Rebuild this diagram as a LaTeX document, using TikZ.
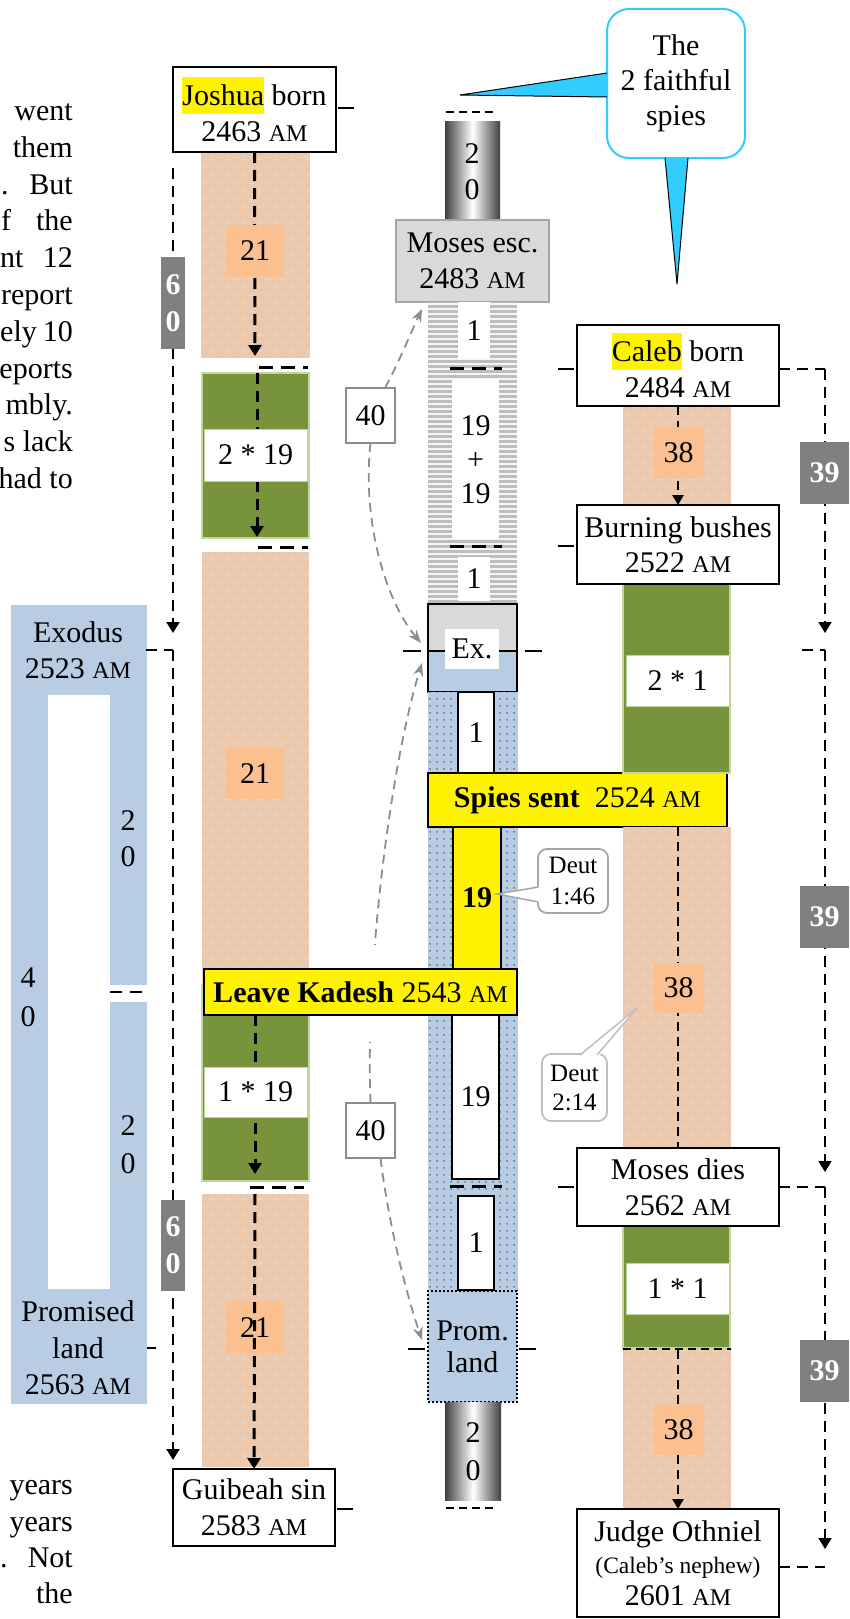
\documentclass[tikz,border=0pt]{standalone}
\usepackage{fontspec}
\setmainfont{Liberation Serif}
\usetikzlibrary{arrows.meta,patterns}
\definecolor{peach}{HTML}{ECC8AC}
\definecolor{peachlab}{HTML}{FAC090}
\definecolor{olive}{HTML}{77933C}
\definecolor{lgreen}{HTML}{C3D69B}
\definecolor{lblue}{HTML}{B8CCE4}
\definecolor{lgray}{HTML}{D9D9D9}
\definecolor{mgray}{HTML}{A6A6A6}
\definecolor{dgray}{HTML}{808080}
\definecolor{cyanb}{HTML}{33CCFF}
\definecolor{stripe}{HTML}{BDBDBD}
\definecolor{curvegray}{HTML}{8C8C8C}
\definecolor{crossc}{HTML}{DDD6D2}
\definecolor{dotc}{HTML}{3A3F4A}
\definecolor{calloutgray}{HTML}{BFBFBF}
\pgfdeclarepatternformonly{pdots}{\pgfpointorigin}{\pgfpoint{7pt}{7pt}}{\pgfpoint{7pt}{7pt}}{\pgfpathcircle{\pgfpoint{3.5pt}{3.5pt}}{0.9pt}\pgfusepath{fill}}
\pgfdeclarepatternformonly{pcross}{\pgfpointorigin}{\pgfpoint{16pt}{16pt}}{\pgfpoint{16pt}{16pt}}{\pgfsetlinewidth{1.2pt}\pgfpathmoveto{\pgfpoint{1pt}{4pt}}\pgfpathlineto{\pgfpoint{7pt}{4pt}}\pgfpathmoveto{\pgfpoint{4pt}{1pt}}\pgfpathlineto{\pgfpoint{4pt}{7pt}}\pgfpathmoveto{\pgfpoint{9pt}{12pt}}\pgfpathlineto{\pgfpoint{15pt}{12pt}}\pgfpathmoveto{\pgfpoint{12pt}{9pt}}\pgfpathlineto{\pgfpoint{12pt}{15pt}}\pgfusepath{stroke}}
\newcommand\hlt[1]{{\setlength\fboxsep{0pt}\colorbox{yellow}{\rule[-9pt]{0pt}{37pt}#1}}}
\newcommand\smam{{\fontsize{24}{24}\selectfont AM}}
\newcommand\boxat[7][]{%
  \pgfmathsetmacro\bxw{(#5)-(#3)}%
  \pgfmathsetmacro\bxh{(#6)-(#4)}%
  \node[inner sep=0pt, outer sep=0pt, minimum width=\bxw pt, minimum height=\bxh pt, align=center, #1] (#2) at ({((#3)+(#5))/2},{((#4)+(#6))/2}) {#7};%
}
\newcommand\peachbar[4]{\fill[peach] (#1,#2) rectangle (#3,#4); \fill[pattern=pcross, pattern color=crossc] (#1,#2) rectangle (#3,#4);}
\newcommand\greenbar[4]{\fill[olive, draw=lgreen, line width=1.5pt] (#1,#2) rectangle (#3,#4);}
\begin{document}
\begin{tikzpicture}[x=1pt,y=-1pt,
  every node/.style={font=\fontsize{30}{36}\selectfont, inner sep=0pt},
  evbox/.style={draw, fill=white, line width=1.6pt},
  lab/.style={fill=peachlab},
  wlab/.style={fill=white, draw=lgreen, line width=1pt},
  gbox/.style={fill=dgray, text=white, font=\fontsize{30}{37}\selectfont\bfseries},
  fortybox/.style={draw=curvegray, fill=white, line width=1.8pt},
  blk/.style={draw, line width=1.8pt},
  jarrow/.style={line width=3pt, dash pattern=on 11pt off 7pt, -{Triangle[width=13pt,length=11pt]}},
  tdash/.style={line width=2pt, dash pattern=on 11pt off 7pt},
  tarrow/.style={tdash, -{Triangle[width=13pt,length=11pt]}},
  carrow/.style={line width=2.5pt, dash pattern=on 9pt off 6pt, -{Triangle[width=11pt,length=10pt]}},
  mdash/.style={line width=3pt, dash pattern=on 14pt off 8pt},
  sdash/.style={line width=2pt, dash pattern=on 8pt off 5pt},
  tk/.style={line width=2.5pt},
  gcurve/.style={draw=curvegray, line width=1.8pt, dash pattern=on 9pt off 6pt, -{Stealth[length=13pt,width=10pt]}},
]
\useasboundingbox (0,0) rectangle (849,1619);

% ---------- left margin text ----------
\node[anchor=base east] (t1) at (73,120) {went};
\node[anchor=base east] (t2) at (73,157) {them};
\node[anchor=base west] (t3a) at (1,194) {.};
\node[anchor=base east] (t3) at (73,194) {But};
\node[anchor=base west] (t4a) at (1,230) {f};
\node[anchor=base east] (t4) at (73,230) {the};
\node[anchor=base west] (t5a) at (0,267) {nt};
\node[anchor=base east] (t5) at (73,267) {12};
\node[anchor=base east] (t6) at (73,304) {report};
\node[anchor=base west] (t7a) at (0,341) {ely};
\node[anchor=base east] (t7) at (73,341) {10};
\node[anchor=base east] (t8) at (73,378) {eports};
\node[anchor=base east] (t9) at (73,414) {mbly.};
\node[anchor=base east] (t10) at (73,451) {s lack};
\node[anchor=base east] (t11) at (73,488) {had to};
\node[anchor=base east] (b1) at (73,1494) {years};
\node[anchor=base east] (b2) at (73,1531) {years};
\node[anchor=base west] (b3a) at (0,1567) {.};
\node[anchor=base east] (b3) at (73,1567) {Not};
\node[anchor=base east] (b4) at (73,1603) {the};

% ---------- left blue Exodus frame ----------
\fill[lblue] (11,605) rectangle (147,1404);
\fill[white] (48,695) rectangle (110,1289);
\fill[white] (110,985) rectangle (148,1002);
\draw[line width=2.5pt, dash pattern=on 12pt off 8pt] (110,992) -- (146,992);
\node[align=center] (exodus) at (78,650) {Exodus\\2523 \smam};
\node[align=center] (e20a) at (128,839) {2\\0};
\node[align=center, font=\fontsize{30}{39}\selectfont] (e40) at (28,997) {4\\0};
\node[align=center, font=\fontsize{30}{38}\selectfont] (e20b) at (128,1145) {2\\0};
\node[align=center, font=\fontsize{30}{36.5}\selectfont] (promised) at (78,1348) {Promised\\land\\2563 \smam};
\draw[tk] (147,1348) -- (156,1348);

% ---------- Joshua column ----------
\peachbar{201}{152}{310}{358}
\greenbar{202}{373}{309}{538}
\peachbar{202}{552}{309}{985}
\greenbar{202}{985}{309}{1181}
\peachbar{202}{1194}{309}{1467}

\boxat[evbox]{joshua}{173}{67}{336}{152}{\hlt{Joshua} born\\2463 \smam}
\draw[tk] (338,108) -- (354,108);

\coordinate (ja1) at (255,356);
\draw[jarrow] (joshua.south) -- (ja1);
\draw[mdash] (259,367) -- (308,367);
\coordinate (ja2s) at (257,373); \coordinate (ja2e) at (257,537);
\draw[jarrow] (ja2s) -- (ja2e);
\draw[mdash] (258,547) -- (308,547);
\coordinate (ja3s) at (255,1015); \coordinate (ja3e) at (255,1174);
\draw[jarrow] (ja3s) -- (ja3e);
\draw[mdash] (250,1187) -- (304,1187);
\coordinate (ja4s) at (255,1194);

\boxat[lab]{l21a}{226}{225}{284}{277}{21}
\boxat[wlab]{l219}{204}{429}{307}{481}{2 * 19}
\boxat[lab]{l21b}{226}{748}{284}{799}{21}
\boxat[wlab]{l119}{204}{1067}{307}{1117}{1 * 19}
\boxat[lab]{l21c}{226}{1302}{284}{1353}{21}

\boxat[evbox]{guibeah}{173}{1469}{335}{1546}{Guibeah sin\\2583 \smam}
\draw[jarrow] (ja4s) -- (guibeah.north);
\draw[tk] (337,1509) -- (353,1509);

% 60-year brackets
\coordinate (s60a) at (173,168); \coordinate (s60b) at (173,633);
\coordinate (ex60) at (173,650); \coordinate (s60c) at (173,1460);
\draw[tarrow] (s60a) -- (s60b);
\draw[tdash] (146,650) -- (ex60);
\draw[tarrow] (ex60) -- (s60c);
\boxat[gbox]{g60a}{161}{257}{185}{349}{6\\0}
\boxat[gbox]{g60b}{161}{1200}{185}{1291}{6\\0}

% ---------- Moses column ----------
\draw[sdash] (446,112) -- (496,112);
\shade[left color=black!75, right color=black!75, middle color=white] (445,121) rectangle (500,219);
\node[align=center] (cyl1) at (472,172) {2\\0};
\boxat[fill=lgray, draw=mgray, line width=2pt]{mosesesc}{396}{220}{549}{302}{Moses esc.\\2483 \smam}

\fill[stripe] (428,302) rectangle (517,604);
\foreach \yy in {303,308,...,600} {\fill[white!85!stripe] (428,\yy) rectangle (517,\yy+2);}
\boxat[fill=white]{m1a}{458}{302}{490}{359}{1}
\draw[mdash] (450,368) -- (502,368);
\boxat[fill=white]{m1919}{452}{380}{499}{539}{19\\[-2pt]+\\[-2pt]19}
\draw[mdash] (450,546) -- (502,546);
\boxat[fill=white]{m1b}{458}{557}{490}{601}{1}

\fill[lgray] (428,604) rectangle (517,651);
\fill[lblue] (428,651) rectangle (517,692);
\draw[blk] (428,651) -- (517,651);
\boxat[blk]{exbox}{428}{604}{517}{692}{}
\boxat[fill=white]{exlab}{445}{629}{499}{669}{Ex.}
\draw[tk] (403,651) -- (421,651);
\draw[tk] (525,651) -- (542,651);

\fill[lblue] (428,692) rectangle (518,1291);
\fill[pattern=pdots, pattern color=dotc] (428,692) rectangle (518,1291);
\boxat[fill=white, blk]{m1c}{458}{692}{494}{773}{1}
\boxat[fill=yellow, blk]{m19y}{453}{827}{501}{969}{\textbf{19}}
\boxat[fill=white, blk]{m19w}{452}{1015}{499}{1179}{19}
\draw[mdash] (450,1186) -- (502,1186);
\boxat[fill=white, blk]{m1d}{458}{1196}{494}{1290}{1}
\boxat[fill=lblue, draw, line width=2pt, dash pattern=on 2pt off 2pt]{prom}{428}{1291}{517}{1402}{Prom.\\[-4pt]land}
\draw[tk] (408,1349) -- (425,1349);
\draw[tk] (519,1349) -- (536,1349);
\shade[left color=black!75, right color=black!75, middle color=white] (445,1402) rectangle (501,1500);
\node[align=center, font=\fontsize{30}{38}\selectfont] (cyl2) at (473,1452) {2\\0};
\draw[sdash] (446,1508) -- (496,1508);

% 40-year curved arrows
\boxat[fortybox]{fortyA}{346}{388}{395}{443}{40}
\boxat[fortybox]{fortyB}{346}{1103}{395}{1158}{40}
\coordinate (tipA) at (422,309);
\coordinate (tipB) at (421,643);
\coordinate (tipC) at (422,663);
\coordinate (tipD) at (422,1340);
\draw[gcurve] (fortyA.north east) ++(-10,0) .. controls (400,360) and (412,330) .. (tipA);
\draw[gcurve] (fortyA.south) .. controls (362,520) and (385,600) .. (tipB);
\draw[gcurve] (fortyB.north) .. controls (365,960) and (392,760) .. (tipC);
\draw[gcurve] (fortyB.south) ++(10,0) .. controls (388,1220) and (405,1290) .. (tipD);
\fill[white] (358,945) rectangle (379,968);
\fill[white] (358,1016) rectangle (379,1042);

% big yellow event bars
\boxat[fill=yellow, blk]{spies}{428}{773}{727}{827}{\textbf{Spies sent}\ \ 2524 \smam}
\boxat[fill=yellow, blk]{kadesh}{204}{969}{517}{1015}{\textbf{Leave Kadesh} 2543 \smam}

% Deut 1:46 callout
\boxat[fill=white, draw=mgray, line width=1.8pt, rounded corners=9pt, font=\fontsize{25}{31}\selectfont]{deut1}{538}{849}{608}{913}{Deut\\1:46}
\coordinate (d1tip) at (497,894);
\fill[white] (541,886) -- (d1tip) -- (541,903) -- cycle;
\draw[mgray, line width=1.5pt] (538.5,887) -- (d1tip) -- (538.5,902);

% ---------- speech bubble ----------
\boxat[fill=white, draw=cyanb, line width=2pt, rounded corners=22pt, font=\fontsize{30}{35}\selectfont]{bubble}{607}{9}{745}{158}{The\\2 faithful\\spies}
\coordinate (bt1) at (460,95);
\coordinate (bt2) at (677,284);
\fill[cyanb] (608,73) -- (bt1) -- (608,97) -- cycle;
\draw[line width=1pt] (607,73) -- (bt1) -- (607,97);
\fill[cyanb] (665,157) -- (bt2) -- (688,157) -- cycle;
\draw[line width=1pt] (665,158) -- (bt2) -- (688,158);

% ---------- Caleb column ----------
\peachbar{623}{406}{731}{506}
\greenbar{623}{584}{730}{773}
\peachbar{623}{827}{731}{1148}
\greenbar{623}{1226}{730}{1348}
\peachbar{623}{1349}{731}{1508}

\boxat[evbox]{caleb}{577}{325}{779}{406}{\hlt{Caleb} born\\2484 \smam}
\draw[tk] (558,369) -- (574,369);
\boxat[evbox]{bushes}{577}{505}{779}{584}{Burning bushes\\[-1pt]2522 \smam}
\draw[tk] (558,546) -- (574,546);
\draw[carrow] (caleb.south) -- (bushes.north);
\boxat[lab]{l38a}{654}{427}{703}{478}{38}
\boxat[wlab]{l21x}{626}{655}{729}{706}{2 * 1}

\coordinate (cd2s) at (678,827);
\boxat[evbox]{mosesdies}{577}{1148}{779}{1226}{Moses dies\\2562 \smam}
\draw[line width=2.5pt, dash pattern=on 9pt off 6pt] (cd2s) -- (cd2s |- mosesdies.north);
\draw[tk] (558,1187) -- (574,1187);
\boxat[lab]{l38b}{654}{963}{703}{1013}{38}
\boxat[wlab]{l11}{626}{1263}{729}{1314}{1 * 1}
\draw[line width=2pt, dash pattern=on 8pt off 5pt] (623,1349) -- (731,1349);

\boxat[evbox]{othniel}{577}{1509}{779}{1617}{Judge Othniel\\[-4pt]{\fontsize{23.5}{28}\selectfont (Caleb’s nephew)}\\[-4pt]2601 \smam}
\coordinate (cd3s) at (678,1350);
\draw[carrow] (cd3s) -- (cd3s |- othniel.north);
\boxat[lab]{l38c}{654}{1405}{703}{1455}{38}

% Deut 2:14 callout
\boxat[fill=white, draw=calloutgray, line width=1.8pt, rounded corners=9pt, font=\fontsize{25}{29}\selectfont]{deut2}{542}{1054}{607}{1121}{Deut\\2:14}
\coordinate (d2tip) at (637,1008);
\fill[white] (579,1057) -- (d2tip) -- (598,1057) -- cycle;
\draw[calloutgray, line width=1.5pt] (580,1055) -- (d2tip) -- (597,1055);

% 39-year brackets
\coordinate (r1) at (825,369); \coordinate (r1e) at (825,633);
\coordinate (r2) at (825,650); \coordinate (r2e) at (825,1172);
\coordinate (r3) at (825,1187); \coordinate (r3e) at (825,1549);
\coordinate (r4) at (825,1567);
\draw[tdash] (caleb.east |- r1) -- (r1);
\draw[tarrow] (r1) -- (r1e);
\draw[tdash] (802,650) -- (r2);
\draw[tarrow] (r2) -- (r2e);
\draw[tdash] (mosesdies.east |- r3) -- (r3);
\draw[tarrow] (r3) -- (r3e);
\draw[tdash] (othniel.east |- r4) -- (r4);
\boxat[gbox]{g39a}{800}{442}{849}{504}{39}
\boxat[gbox]{g39b}{800}{886}{849}{948}{39}
\boxat[gbox]{g39c}{800}{1340}{849}{1402}{39}
\end{tikzpicture}
\end{document}
